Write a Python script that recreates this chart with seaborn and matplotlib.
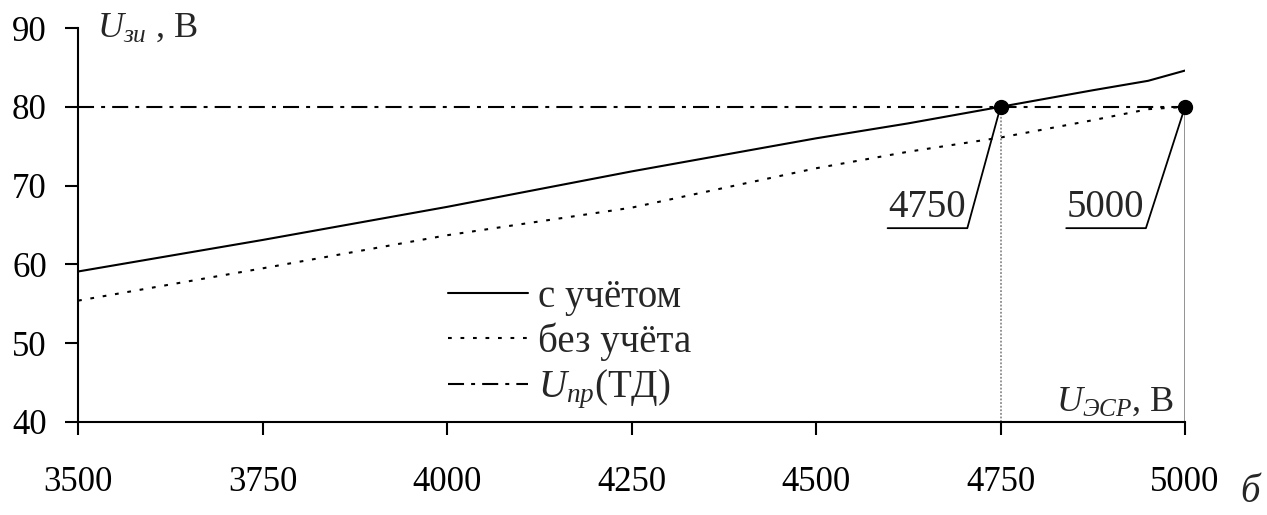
import matplotlib
matplotlib.use("Agg")
import matplotlib.pyplot as plt
import seaborn as sns
import numpy as np
import pandas as pd

# ---- data ----
x_vals = [3500, 3750, 4000, 4250, 4500, 4625, 4750, 4875, 4950, 5000]
u_with = [59.1, 63.1, 67.3, 71.8, 76.0, 77.9, 80.0, 82.1, 83.3, 84.6]      # с учётом
u_without = [55.4, 59.5, 63.7, 67.2, 72.2, 74.3, 76.1, 78.3, 79.7, 80.0]   # без учёта
u_limit = 80.0                                                           # U_пр(ТД)
cross_x = [4750, 5000]
cross_labels = ["4750", "5000"]
x_ticks = [3500, 3750, 4000, 4250, 4500, 4750, 5000]
y_ticks = [40, 50, 60, 70, 80, 90]

labels = ["с учётом", "без учёта", r"$U_{пр}$(ТД)"]

sns.set_style("ticks")
plt.rcParams["font.family"] = ["Liberation Serif", "DejaVu Serif"]
plt.rcParams["mathtext.fontset"] = "custom"
plt.rcParams["mathtext.rm"] = "Liberation Serif"
plt.rcParams["mathtext.it"] = "Liberation Serif:italic"
plt.rcParams["mathtext.bf"] = "Liberation Serif:bold"

FS_TICK = 25
FS_BIG = 28
FS_LAB = 26
fig = plt.figure(figsize=(12.67, 5.15), dpi=100)
ax = fig.add_axes([0.0616, 0.1806, 0.8737, 0.765])

df = pd.DataFrame({"x": x_vals, "with": u_with, "without": u_without})

sns.lineplot(data=df, x="x", y="with", ax=ax, color="black", lw=1.5,
             label=labels[0])
sns.lineplot(data=df, x="x", y="without", ax=ax, color="black", lw=1.5,
             linestyle=(0, (1.8, 4.2)), label=labels[1])
ax.plot([x_ticks[0], x_ticks[-1]], [u_limit, u_limit], color="black", lw=1.5,
        linestyle=(0, (7.7, 3.4, 1.9, 3.4)), label=labels[2])

# vertical drop lines
ax.plot([cross_x[0], cross_x[0]], [y_ticks[0], u_limit], color="#8a8a8a",
        lw=1.3, linestyle=(0, (1, 1)))
ax.plot([cross_x[1], cross_x[1]], [y_ticks[0], u_limit], color="#8a8a8a",
        lw=1.3)

# points
ax.plot(cross_x, [u_limit, u_limit], "o", color="black", ms=10, clip_on=False,
        zorder=5)

# leader annotations
elbow_dx = [-45, -53]
elbow_y = 64.6
under_len = 108
for cx, dx, txt in zip(cross_x, elbow_dx, cross_labels):
    ex = cx + dx
    ax.plot([cx, ex, ex - under_len], [u_limit, elbow_y, elbow_y],
            color="black", lw=1.3)
    ax.text(ex - 2, elbow_y + 0.3, txt, ha="right", va="bottom",
            fontsize=FS_BIG)

ax.set_xlim(x_ticks[0], x_ticks[-1])
ax.set_ylim(y_ticks[0], y_ticks[-1])
ax.set_xticks(x_ticks)
ax.set_yticks(y_ticks)
ax.set_xlabel("")
ax.set_ylabel("")
for s in ["top", "right"]:
    ax.spines[s].set_visible(False)
for s in ["left", "bottom"]:
    ax.spines[s].set_linewidth(1.5)
    ax.spines[s].set_color("black")
ax.tick_params(axis="x", direction="out", length=9, width=1.5, pad=23,
               labelsize=FS_TICK, colors="black")
ax.tick_params(axis="y", direction="out", length=9.5, width=1.5, pad=13,
               labelsize=FS_TICK, colors="black")

ax.text(0.017, 1.0, r"$U_{зи}$ , В", transform=ax.transAxes, ha="left",
        va="center", fontsize=FS_LAB)
ax.text(0.99, 0.05, r"$U_{ЭСР}$, В", transform=ax.transAxes, ha="right",
        va="center", fontsize=FS_LAB)
fig.text(0.994, 0.008, "б", ha="right", va="bottom", fontsize=FS_BIG,
         style="italic")

leg = ax.legend(loc="upper left", bbox_to_anchor=(0.334, 0.364), frameon=False,
                fontsize=FS_BIG, handlelength=2.06, handletextpad=0.26,
                labelspacing=0.18, borderpad=0, borderaxespad=0)

fig.savefig("out.png", dpi=100)
